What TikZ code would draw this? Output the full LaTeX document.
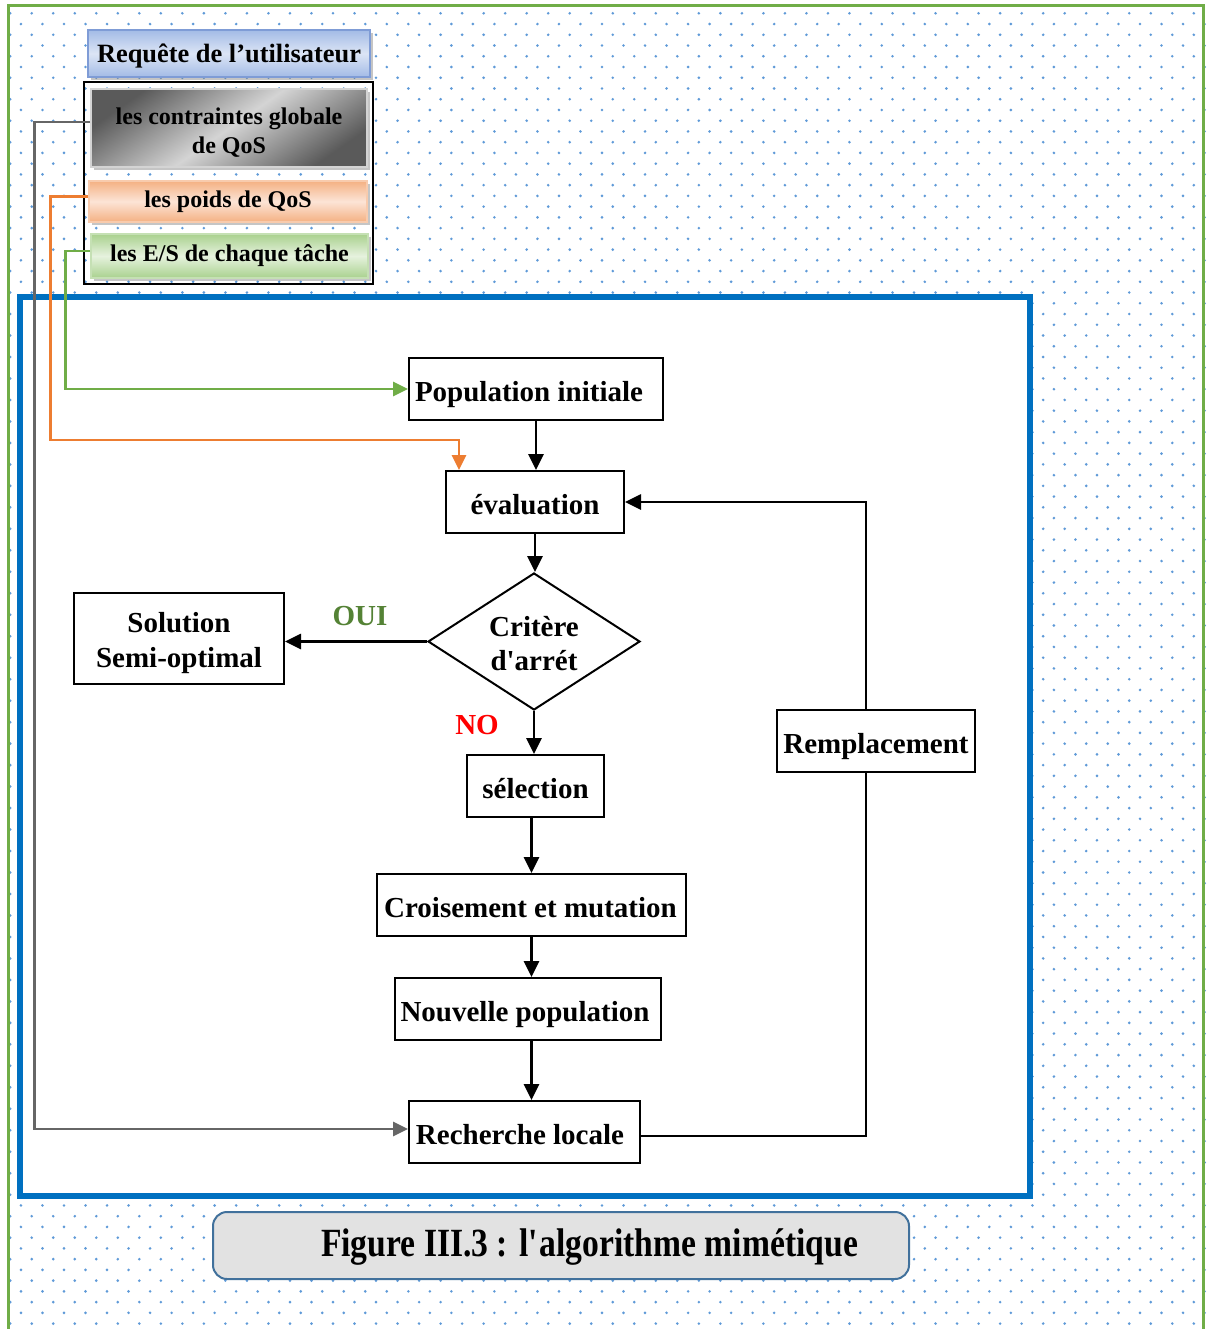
\documentclass[tikz,border=0pt]{standalone}
\usepackage{fontspec}
\setmainfont{Liberation Serif}
\newfontfamily\capfont{Liberation Serif}[FakeStretch=0.84]
\usetikzlibrary{arrows.meta,shapes.geometric,shadows,calc}
\definecolor{dotc}{HTML}{5F9AD8}
\definecolor{frameblue}{HTML}{0070C0}
\definecolor{bordgreen}{HTML}{70AD47}
\definecolor{lorange}{HTML}{ED7D31}
\definecolor{lgreen}{HTML}{70AD47}
\definecolor{lgray}{HTML}{666666}
\definecolor{ouigreen}{HTML}{548235}
\definecolor{capborder}{HTML}{41719C}
\definecolor{capfill}{HTML}{E2E2E2}
\definecolor{reqborder}{HTML}{7F9CD6}
\definecolor{reqdark}{HTML}{A3BBE6}
\definecolor{reqlight}{HTML}{DCE5F5}
\definecolor{grdark}{HTML}{5A5A5A}
\definecolor{grlight}{HTML}{D4D4D4}
\definecolor{ordark}{HTML}{F4B183}
\definecolor{orlight}{HTML}{FCE4D6}
\definecolor{orborder}{HTML}{F8CBAD}
\definecolor{gndark}{HTML}{A9D18E}
\definecolor{gnlight}{HTML}{E6F2DE}
\definecolor{gnborder}{HTML}{C5E0B4}
\begin{document}
\begin{tikzpicture}[x=0.5pt,y=-0.5pt,
  flow/.style={draw, line width=1pt, fill=white, inner sep=0pt,
    font=\fontsize{14.5}{17.5}\selectfont\bfseries, align=center, minimum height=31pt},
  oneline/.style={text height=12.5pt, text depth=0pt},
  arr/.style={line width=1.35pt, -{Triangle[length=8pt,width=7.5pt]}},
  link/.style={line width=1.35pt},
  carr/.style={line width=1.4pt, -{Triangle[length=7.5pt,width=7pt]}},
  topbox/.style={inner sep=0pt, line width=0.8pt, align=center,
    font=\fontsize{12}{14.5}\selectfont\bfseries,
    drop shadow={shadow xshift=1.5pt, shadow yshift=-1.5pt, opacity=0.45}},
  lbl/.style={font=\fontsize{14.5}{17}\selectfont\bfseries, inner sep=0pt},
]
\clip (0,0) rectangle (1209,1329);
\fill[white] (0,0) rectangle (1209,1329);
% dotted background
\foreach \r in {0,...,122}{
  \pgfmathsetmacro{\xo}{10.2+10.76*mod(\r,2)}
  \pgfmathsetmacro{\yo}{13.3+10.74*\r}
  \fill[dotc] \foreach \c in {0,...,55}{ ({\xo+21.52*\c},\yo) circle (0.72pt) };
}
% blue frame
\filldraw[fill=white, draw=frameblue, line width=2.6pt] (20,297) rectangle (1030,1196);
% green outer border
\draw[bordgreen, line width=1.5pt] (8.5,1340) -- (8.5,5) -- (1203,5) -- (1203,1340);

% top group
\node[topbox, draw=reqborder, top color=reqdark, bottom color=reqdark, middle color=reqlight,
  minimum width=141pt, minimum height=23.5pt, text depth=0pt, font=\fontsize{13.2}{15}\selectfont\bfseries]
  (req) at (229,53.5) {Requête de l’utilisateur};
\node[draw, line width=1pt, minimum width=144.5pt, minimum height=101pt, inner sep=0pt] (grp) at (228.5,183) {};
\node[topbox, draw=grlight, top color=grdark, bottom color=grdark, middle color=grlight, shading angle=35,
  minimum width=138pt, minimum height=39pt] (cont) at (229,128) {\rule{0pt}{13.2pt}les contraintes globale\\de QoS};
\node[topbox, draw=orborder, top color=ordark, bottom color=ordark, middle color=orlight,
  minimum width=139pt, minimum height=20.5pt] (poids) at (228,201.5) {les poids de QoS};
\node[topbox, draw=gnborder, top color=gndark, bottom color=gndark, middle color=gnlight,
  minimum width=138.5pt, minimum height=22pt] (es) at (229.5,256) {les E/S de chaque tâche};

% flow nodes
\node[flow, oneline, minimum width=127pt] (pop) at (536,389) {Population initiale\kern7pt};
\node[flow, oneline, minimum width=89pt] (eval) at (535,502) {évaluation};
\node[draw, line width=1pt, fill=white, diamond, aspect=1.55, inner sep=0pt,
  minimum width=106pt, minimum height=68.5pt, align=center,
  font=\fontsize{14.5}{17}\selectfont\bfseries] (diam) at (534,641.5) {\rule{0pt}{12pt}Critère\\d\textquotesingle arrét};
\node[flow, minimum width=105pt, minimum height=45.5pt] (sol) at (179,638.5) {\rule{0pt}{15pt}Solution\\Semi-optimal};
\node[flow, oneline, minimum width=68.5pt] (sel) at (535.5,786) {sélection};
\node[flow, oneline, minimum width=154.5pt] (crois) at (531.5,905) {Croisement et mutation\kern1pt};
\node[flow, oneline, minimum width=133pt] (nouv) at (528,1009) {Nouvelle population\kern3pt};
\node[flow, oneline, minimum width=115.5pt] (rech) at (524.5,1132) {Recherche locale\kern4.5pt};
\node[flow, oneline, minimum width=99pt] (rempl) at (876,741) {Remplacement};

\node[lbl, text=ouigreen] (oui) at (360,616) {OUI};
\node[lbl, text=red] (no) at (477,725) {NO};

% connectors
\draw[arr] (pop.south) -- (pop.south |- eval.north);
\draw[arr] (eval.south) -- (eval.south |- diam.north);
\draw[arr] (diam.west) -- (diam.west -| sol.east);
\draw[arr] (diam.south) -- (diam.south |- sel.north);
\draw[arr] (sel.south -| crois.north) -- (crois.north);
\draw[arr] (crois.south) -- (crois.south |- nouv.north);
\draw[arr] (nouv.south -| crois.south) -- (crois.south |- rech.north);
\draw[link] ([yshift=-2pt]rech.east) -| ([xshift=-5pt]rempl.south);
\draw[arr] ([xshift=-5pt]rempl.north) |- (eval.east);

% coloured inputs
\draw[carr, lgreen] ([yshift=2.5pt]es.west) -- ++(-25,0) |- (pop.west);
\coordinate (oc) at (459,440);
\draw[carr, lorange] ([yshift=2.5pt]poids.west) -- ++(-38,0) |- (oc) -- (oc |- eval.north);
\draw[carr, lgray] ([yshift=3pt]cont.west) -- ++(-56,0) |- ([yshift=1.5pt]rech.west);

% caption
\node[draw=capborder, line width=1pt, rounded corners=7pt, fill=capfill,
  minimum width=348pt, minimum height=33.5pt, inner sep=0pt] (capbox) at (561,1245.5) {};
\node[font=\capfont\fontsize{20}{22}\selectfont\bfseries, inner sep=0pt, anchor=base] (cap) at (589.5,1256)
  {Figure III.3 : l\textquotesingle algorithme mimétique};
\end{tikzpicture}
\end{document}
